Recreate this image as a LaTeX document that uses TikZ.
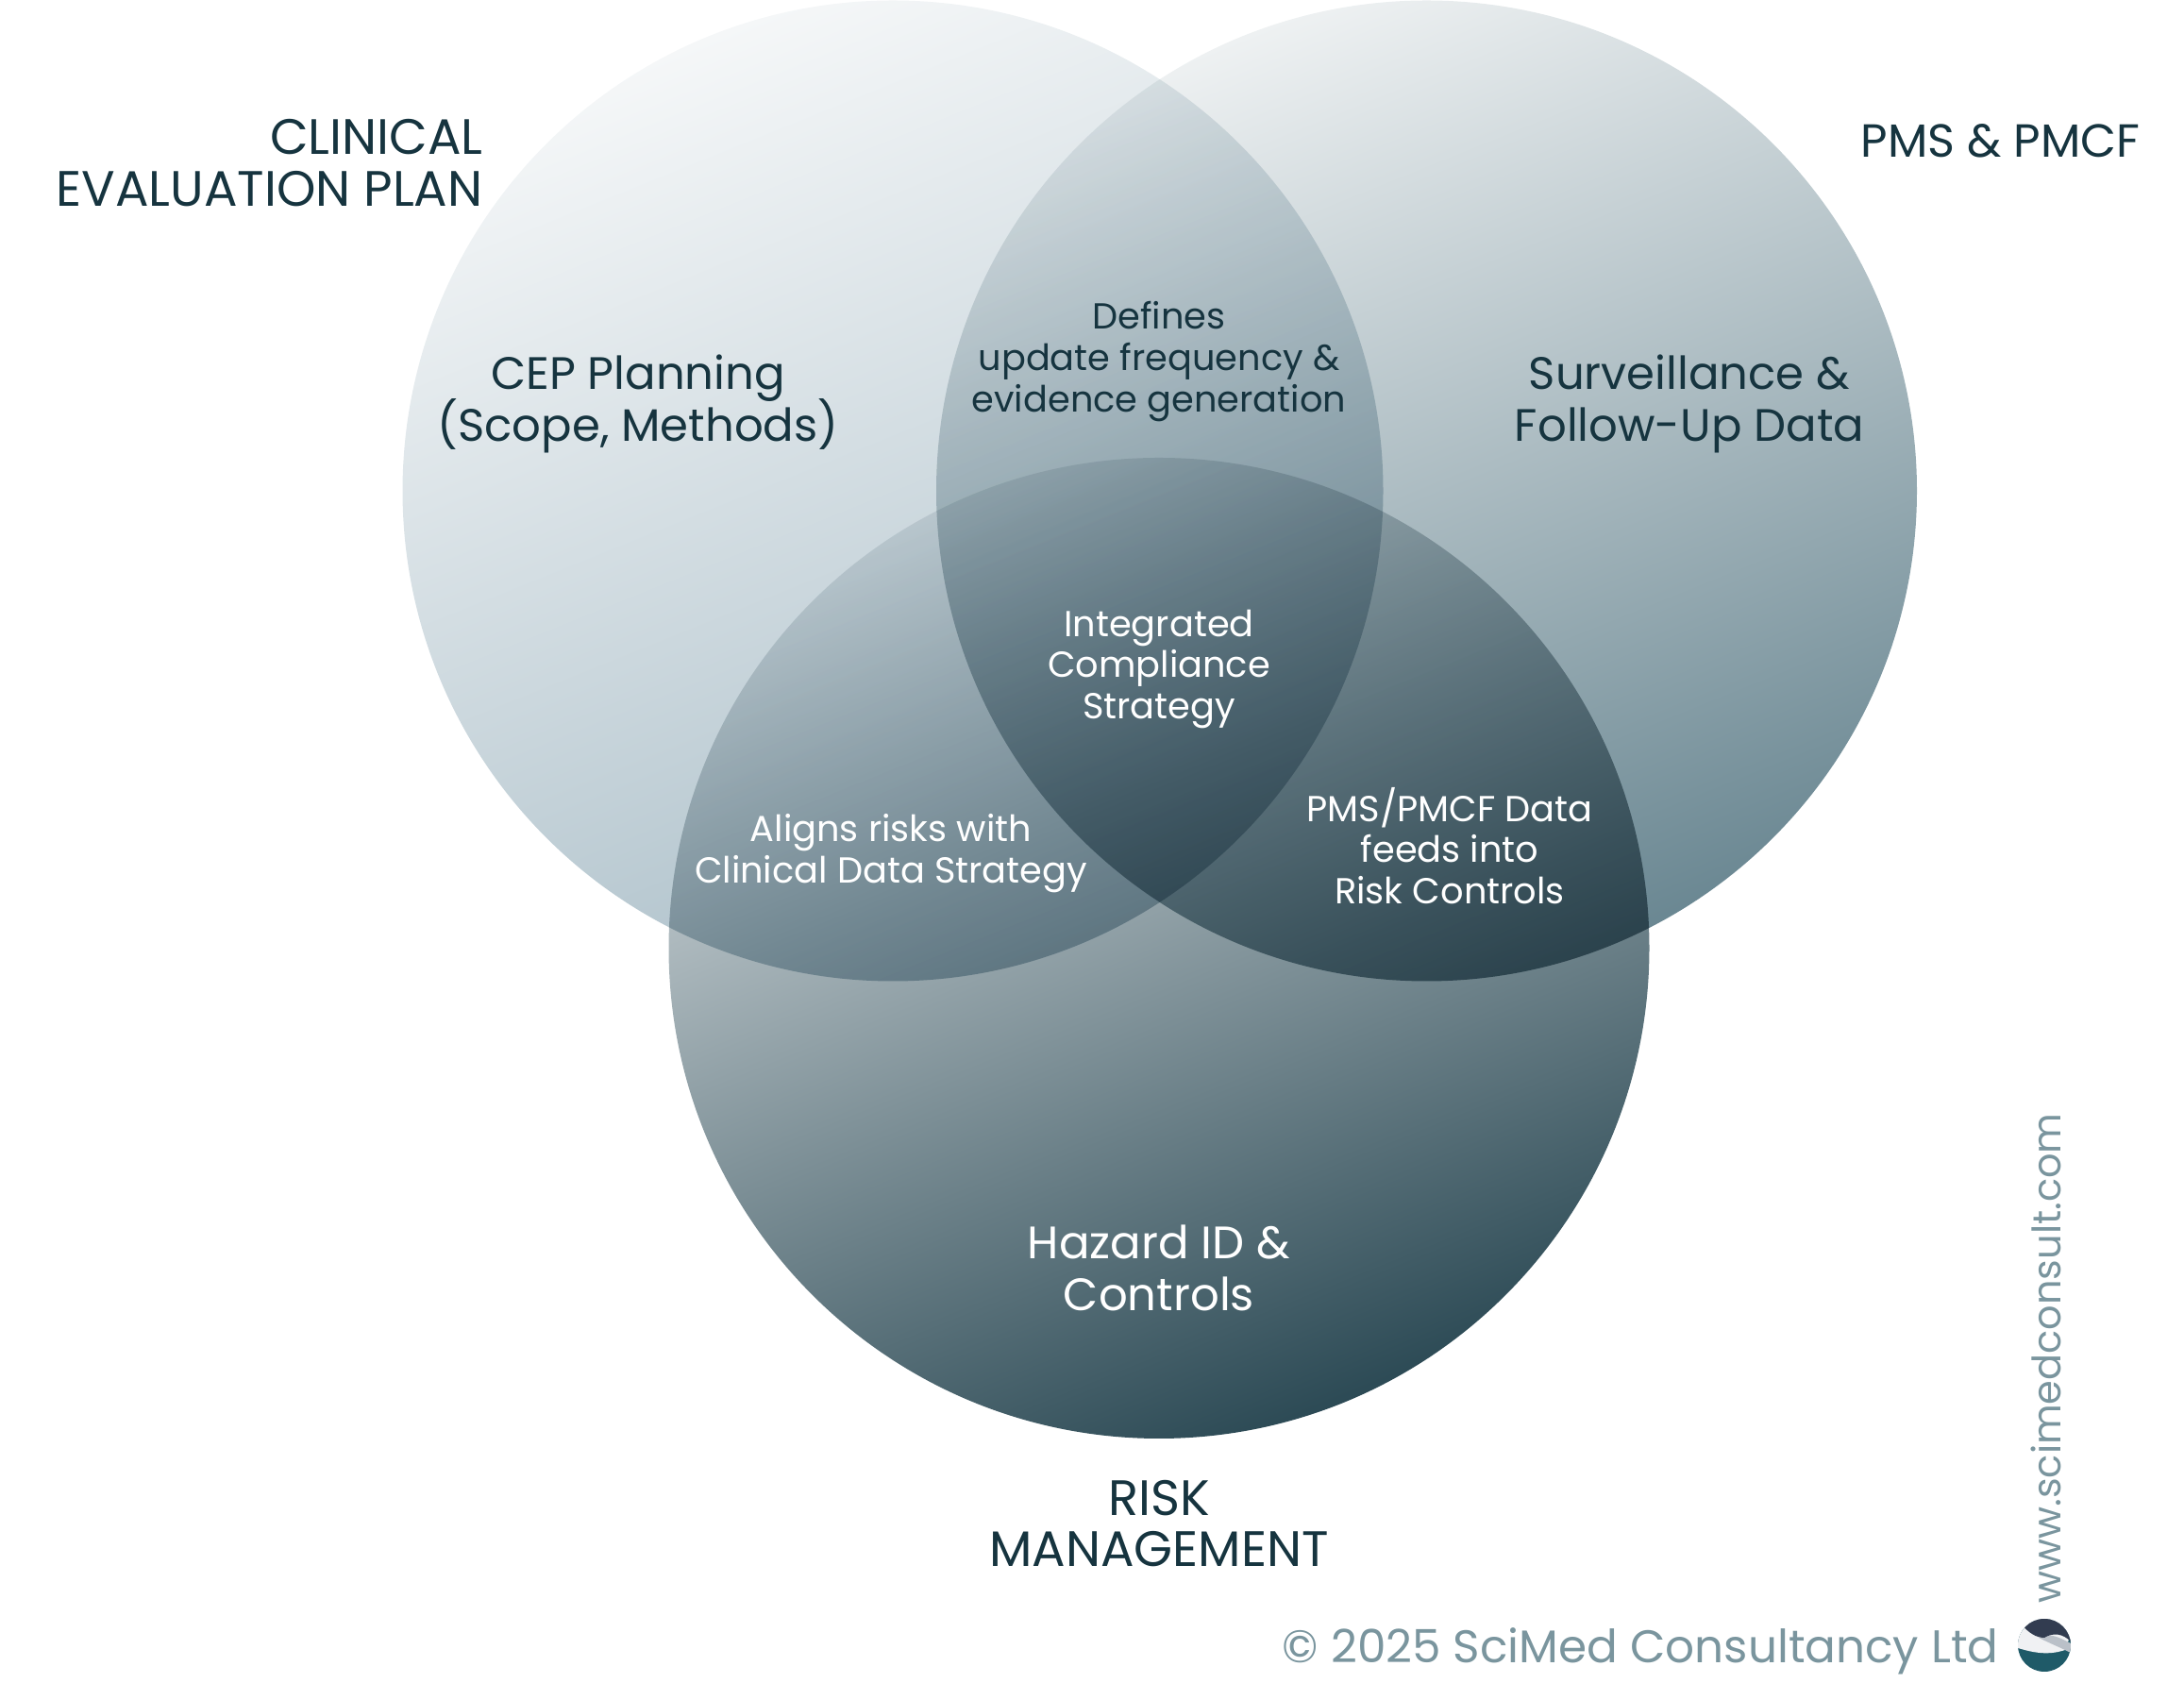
\documentclass[tikz,border=0pt]{standalone}
\usepackage{fontspec}
\setmainfont{Poppins}
\usetikzlibrary{positioning}
\definecolor{inkdark}{RGB}{22, 52, 63}
\definecolor{footgrey}{RGB}{122, 149, 158}
\definecolor{logonavy}{RGB}{50, 60, 80}
\definecolor{logoteal}{RGB}{31, 90, 104}
\definecolor{logogrey}{RGB}{186, 192, 200}
\definecolor{logopale}{RGB}{240, 241, 243}
\definecolor{cepLight}{RGB}{245, 247, 248}
\definecolor{cepDark}{RGB}{170, 190, 200}
\definecolor{pmsLight}{RGB}{238, 241, 242}
\definecolor{pmsDark}{RGB}{106, 135, 146}
\definecolor{riskLight}{RGB}{230, 234, 236}
\definecolor{riskDark}{RGB}{44, 74, 85}
\newcommand{\tightlines}{\lineskiplimit=-20pt\relax}
\begin{document}
\begin{tikzpicture}[
        venn/.style={circle, minimum size=10.39cm, inner sep=0pt},
        title/.style={font=\fontsize{15}{15.6}\selectfont\tightlines, text=inkdark, align=center},
        part/.style={font=\fontsize{13.7}{15.6}\selectfont\tightlines, align=center},
        overlap/.style={font=\fontsize{10.9}{12.4}\selectfont\tightlines, align=center},
        foot/.style={font=\fontsize{13.8}{16}\selectfont, text=footgrey}
    ]
        \useasboundingbox (0,0) rectangle (23.14,18.01);
        % the three circles
        \begin{scope}[blend mode=multiply]
            \node[venn, top color=cepLight, bottom color=cepDark, shading angle=22] (cep) at (9.46,12.81) {};
            \node[venn, top color=pmsLight, bottom color=pmsDark, shading angle=22] (pms) at (15.115,12.81) {};
            \node[venn, top color=riskLight, bottom color=riskDark, shading angle=22] (risk) at (12.28,7.965) {};
        \end{scope}
        % titles outside
        \node[title, align=right, anchor=east] (cepTitle) at (5.24,16.28) {CLINICAL\\EVALUATION PLAN};
        \node[title, font=\fontsize{14}{15.6}\selectfont, anchor=east] (pmsTitle) at (22.80,16.52) {PMS \& PMCF};
        \node[title] (riskTitle) at (12.28,1.87) {RISK\\MANAGEMENT};
        % text in the circles
        \node[part, text=inkdark] (cepText) at (6.76,13.73) {CEP Planning\\(Scope, Methods)};
        \node[part, text=inkdark] (pmsText) at (17.90,13.73) {Surveillance \&\\Follow-Up Data};
        \node[part, text=white] (riskText) at (12.28,4.58) {Hazard ID \&\\Controls};
        \node[overlap, text=inkdark] (cepPms) at (12.28,14.18) {Defines\\update frequency \&\\evidence generation};
        \node[overlap, text=white] (allThree) at (12.28,10.92) {Integrated\\Compliance\\Strategy};
        \node[overlap, text=white] (cepRisk) at (9.44,8.97) {Aligns risks with\\Clinical Data Strategy};
        \node[overlap, text=white] (pmsRisk) at (15.36,9.05) {PMS/PMCF Data\\feeds into\\Risk Controls};
        % footer
        \node[foot, anchor=east] (copyText) at (21.30,0.52) {© 2025 SciMed Consultancy Ltd};
        \node[foot, font=\fontsize{11.8}{14}\selectfont, rotate=90] (webText) at (21.68,3.62) {www.scimedconsult.com};
        % logo
        \begin{scope}
            \clip (21.66,0.58) circle (0.28);
            \fill[logoteal] (21.38,0.30) rectangle (21.94,0.86);
            \fill[logopale] (21.38,0.55) .. controls (21.55,0.50) and (21.70,0.47) .. (21.88,0.53) -- (21.94,0.70) -- (21.94,0.90) -- (21.38,0.90) -- cycle;
            \fill[logogrey] (21.60,0.66) .. controls (21.72,0.72) and (21.82,0.66) .. (21.94,0.60) -- (21.94,0.50) .. controls (21.82,0.56) and (21.72,0.60) .. (21.60,0.66) -- cycle;
            \fill[logonavy] (21.40,0.82) .. controls (21.50,0.70) and (21.58,0.66) .. (21.66,0.66) .. controls (21.76,0.72) and (21.86,0.70) .. (21.94,0.62) -- (21.94,0.90) -- (21.40,0.90) -- cycle;
        \end{scope}
    \end{tikzpicture}
\end{document}
